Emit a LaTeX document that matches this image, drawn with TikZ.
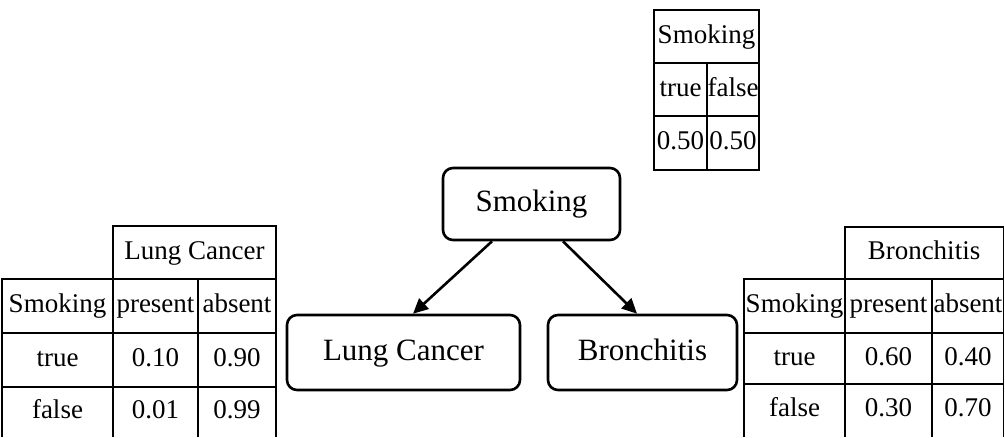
\documentclass[tikz,border=0pt]{standalone}
\usepackage{fontspec}
\setmainfont{Liberation Serif}
\usetikzlibrary{arrows.meta}
\begin{document}
\begin{tikzpicture}[x=1pt,y=-1pt,
  varnode/.style={draw,line width=2.6pt,rounded corners=10pt,
    minimum height=#1,inner sep=0pt,text height=21pt,text depth=6pt,
    font=\fontsize{31}{36}\selectfont},
  edge/.style={line width=2.6pt,-{Triangle[length=15pt,width=14pt]}},
  grid/.style={line width=1.7pt},
  cell/.style={inner sep=0pt,text height=18pt,text depth=5pt,
    font=\fontsize{27}{32}\selectfont}]
\useasboundingbox (0,0) rectangle (1005,437);

% network nodes
\node[varnode=72pt,minimum width=177pt] (sm) at (531.5,204) {Smoking};
\node[varnode=75pt,minimum width=233pt] (lc) at (403.5,352.5) {Lung Cancer};
\node[varnode=75pt,minimum width=189pt] (br) at (642.5,352.5) {Bronchitis};
\draw[edge] ([xshift=-39.5pt]sm.south) -- ([xshift=9.5pt]lc.north);
\draw[edge] ([xshift=31.5pt]sm.south) -- ([xshift=-5.5pt]br.north);

% prior table for Smoking
\draw[grid] (654,10) rectangle (759,170);
\draw[grid] (654,63) -- (759,63) (654,116) -- (759,116) (707,63) -- (707,170);
\node[cell] (ps) at (706.5,37) {Smoking};
\node[cell] (pt) at (680.5,90) {true};
\node[cell] (pf) at (733,90) {false};
\node[cell] (pv1) at (680.5,143) {0.50};
\node[cell] (pv2) at (733,143) {0.50};

% conditional table for Lung Cancer
\draw[grid] (113,437) -- (113,226) -- (276,226) -- (276,437);
\draw[grid] (2,437) -- (2,279) -- (276,279);
\draw[grid] (2,333) -- (276,333) (2,387) -- (276,387) (198,279) -- (198,437);
\node[cell] (lh) at (194.5,253) {Lung Cancer};
\node[cell] (ls) at (57.5,306) {Smoking};
\node[cell] (lp) at (155.5,306) {present};
\node[cell] (la) at (237,306) {absent};
\node[cell] (lt) at (57.5,360) {true};
\node[cell] (l1) at (155.5,360) {0.10};
\node[cell] (l2) at (237,360) {0.90};
\node[cell] (lf) at (57.5,412) {false};
\node[cell] (l3) at (155.5,412) {0.01};
\node[cell] (l4) at (237,412) {0.99};

% conditional table for Bronchitis
\draw[grid] (845,437) -- (845,227) -- (1003.5,227) -- (1003.5,437);
\draw[grid] (744,437) -- (744,279) -- (1003.5,279);
\draw[grid] (744,333) -- (1003.5,333) (744,384) -- (1003.5,384) (932,279) -- (932,437);
\node[cell] (bh) at (924,253) {Bronchitis};
\node[cell] (bs) at (794.5,306) {Smoking};
\node[cell] (bp) at (888.5,306) {present};
\node[cell] (ba) at (968,306) {absent};
\node[cell] (bt) at (794.5,358.5) {true};
\node[cell] (b1) at (888.5,358.5) {0.60};
\node[cell] (b2) at (968,358.5) {0.40};
\node[cell] (bf) at (794.5,410) {false};
\node[cell] (b3) at (888.5,410) {0.30};
\node[cell] (b4) at (968,410) {0.70};
\end{tikzpicture}
\end{document}
